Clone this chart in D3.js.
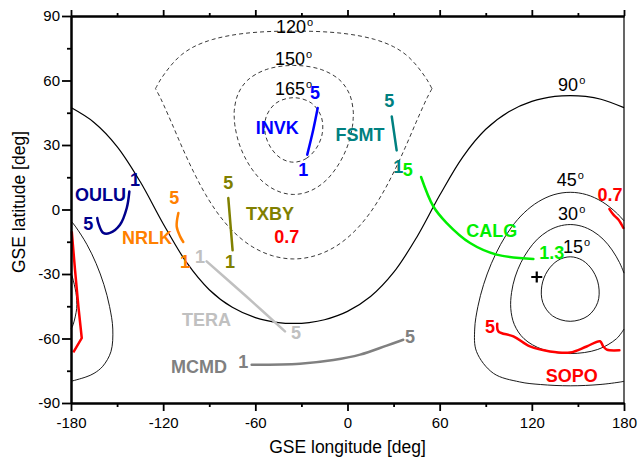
<!DOCTYPE html>
<html>
<head>
<meta charset="utf-8">
<script src="https://cdnjs.cloudflare.com/ajax/libs/d3/7.8.5/d3.min.js"></script>
<style>
  body { margin: 0; background: #fff; }
  text { font-family: "Liberation Sans", Arial, sans-serif; }
</style>
</head>
<body>
<div id="my_dataviz"></div>
<script>
// axis ticks
var xTicks = [-180, -120, -60, 0, 60, 120, 180]
var xMinor = [-150, -90, -30, 30, 90, 150]
var yTicks = [-90, -60, -30, 0, 30, 60, 90]
var yMinor = [-75, -45, -15, 15, 45, 75]

// contour lines, [lon, lat]
var c90 = [[-180,47.4],[-165,40.5],[-150,29.3],[-135,13.0],[-120,-6.6],[-105,-24.4],[-90,-37.3],[-75,-45.5],[-60,-50.3],[-45,-52.6],[-35,-53.0],[-25,-52.6],[-15,-51.3],[0,-47.4],[15,-40.5],[30,-29.3],[45,-13.0],[60,6.6],[75,24.4],[90,37.3],[105,45.5],[120,50.3],[135,52.6],[145,53.0],[155,52.6],[165,51.3],[180,47.4]]
var c45a = [[180,-79.9],[177.9,-80.2],[164.4,-81.4],[145,-82],[125.6,-81.4],[112.1,-80.2],[95,-76.2],[84,-66.1],[82.8,-55.6],[84.9,-45.1],[88.6,-34.9],[93.6,-25.2],[99.7,-16.2],[106.8,-8.2],[115,-1.5],[124.2,3.6],[134.4,6.9],[145,8],[155.6,6.9],[165.8,3.6],[175,-1.5],[180,-5.3]]
var c45b = [[-180,-5.3],[-176.8,-8.2],[-169.7,-16.2],[-163.6,-25.2],[-158.6,-34.9],[-154.9,-45.1],[-152.8,-55.6],[-154,-66.1],[-159.3,-72.9],[-165,-76.2],[-170.3,-77.9],[-180,-79.9]]
var c30a = [[180,-55.6],[175.1,-60.1],[162.9,-65.1],[145,-67],[127.1,-65.1],[114.9,-60.1],[108.6,-53.5],[106.3,-46.1],[106.8,-38.6],[109.1,-31.4],[112.9,-24.7],[117.8,-18.8],[123.6,-13.8],[130.3,-10.1],[137.5,-7.8],[145,-7],[152.5,-7.8],[159.7,-10.1],[166.4,-13.8],[172.2,-18.8],[177.1,-24.7],[180,-29.6]]
var c30b = [[-180,-29.6],[-179.1,-31.4],[-176.8,-38.6],[-176.3,-42.4],[-176.3,-46.1],[-178.6,-53.5],[-180,-55.6]]
var c15 = [[145,-22],[153.1,-23.7],[159.8,-28.6],[163.5,-35.5],[162.9,-43.2],[156.5,-49.5],[145,-52],[133.5,-49.5],[127.1,-43.2],[126.5,-35.5],[130.2,-28.6],[136.9,-23.7]]
var c120top = [[-125,56.2],[-121.9,60.2],[-118.1,64.1],[-113.6,68.1],[-108,72],[-100,75.7],[-87.7,79.1],[-67.2,81.9],[-35,83],[-2.8,81.9],[17.7,79.1],[30,75.7],[38,72],[43.6,68.1],[48.1,64.1],[51.9,60.2],[55,56.2]]
var c120low = [[55,56.2],[52,52.2],[49.4,48.2],[44.5,40.3],[37.5,28.7],[30.2,17.5],[22.4,7.0],[13.6,-2.6],[3.6,-10.8],[-8,-17.3],[-21.1,-21.5],[-35,-23],[-48.9,-21.5],[-62,-17.3],[-73.6,-10.8],[-83.6,-2.6],[-92.4,7.0],[-100.2,17.5],[-107.5,28.7],[-114.5,40.3],[-119.4,48.2],[-122,52.2],[-125,56.2]]
var c150 = [[-35,7],[-27.5,7.8],[-20.3,10.1],[-13.6,13.8],[-7.8,18.8],[-2.9,24.7],[0.9,31.4],[3.2,38.6],[3.7,42.4],[3.7,46.1],[1.4,53.5],[-4.9,60.1],[-17.1,65.1],[-35,67],[-52.9,65.1],[-65.1,60.1],[-71.4,53.5],[-73.7,46.1],[-73.7,42.4],[-73.2,38.6],[-70.9,31.4],[-67.1,24.7],[-62.2,18.8],[-56.4,13.8],[-49.7,10.1],[-42.5,7.8]]
var c165 = [[-35,22],[-26.9,23.7],[-20.2,28.6],[-16.4,35.5],[-17.1,43.2],[-23.5,49.5],[-35,52],[-46.5,49.5],[-52.9,43.2],[-53.6,35.5],[-49.8,28.6],[-43.1,23.7]]

// contour labels: text, lon, lat
var contourLabels = [["120",-46.5,82.1],["150",-47.2,67.3],["165",-47.2,53.4],["90",137.1,54.9],["45",136.2,10.7],["30",137.1,-4.7],["15",140.3,-20.1]]

// station traces [lon, lat]
var oulu = [[-142.0,8.4],[-143.7,0.7],[-148.1,-7.1],[-154.6,-10.9],[-159.0,-10.9],[-162.2,-6.3],[-162.9,-4.0]]
var invk = [[-26.2,25.5],[-22.3,37.1],[-19.4,47.2]]
var fsmt = [[28.8,43.3],[32.0,27.5]]
var calg = [[47.9,15.1],[55.9,1.4],[64.6,-6.3],[79.8,-15.6],[97.1,-21.0],[121,-23.0]]
var txby = [[-77.6,5.3],[-74.8,-19.0]]
var nrlk = [[-110.1,-1.6],[-111.2,-7.9],[-109.0,-12.5],[-106.9,-15.1]]
var tera = [[-91.7,-24.1],[-65.6,-40.6],[-40.7,-56.7]]
var mcmd = [[-62.4,-72.2],[-30.9,-71.7],[-9.2,-70.0],[8.2,-67.5],[25.5,-63.3],[36.3,-60.6]]
var sopo = [[97.5,-53.1],[98.2,-56.7],[108.0,-59.0],[118.8,-63.7],[131.8,-66.0],[144.9,-66.5],[155.7,-63.7],[164.4,-61.3],[166.5,-63.7],[168.8,-65.2],[177.0,-65.5]]
var redEast = [[170.5,0.2],[173.1,-2.4],[176.3,-4.7],[179.6,-8.6]]
var redWest = [[-179.5,-10.2],[-177.4,-28.0],[-175.2,-45.1],[-173.0,-59.8],[-178.5,-66.5]]

// subsolar-like marker
var crossPoint = [123.2, -31.4]

// station labels: text, lon, lat, colour
var labels = [
  ["OULU",-160.8,6.9,"#00008c"],["1",-138.3,13.9,"#00008c"],["5",-168.7,-6.7,"#00008c"],
  ["INVK",-45.7,38.2,"#0000ff"],["5",-21.1,54.5,"#0000ff"],["1",-28.8,18.5,"#0000ff"],
  ["FSMT",8.2,34.8,"#008080"],["5",27.2,50.6,"#008080"],["1",33.1,20.0,"#008080"],
  ["CALG",93.9,-9.9,"#00ee00"],["5",39.2,18.5,"#00ee00"],["1.3",133,-20.0,"#00ee00"],
  ["TXBY",-50.4,-2.1,"#808000"],["5",-77.6,12.6,"#808000"],["1",-76.5,-24.1,"#808000"],
  ["0.7",-39.6,-12.8,"#ff0000"],
  ["NRLK",-130.5,-13.1,"#ff8000"],["5",-112.7,5.3,"#ff8000"],["1",-105.8,-24.1,"#ff8000"],
  ["TERA",-91.8,-51.3,"#c0c0c0"],["1",-96.0,-21.8,"#c0c0c0"],["5",-33.5,-57.2,"#c0c0c0"],
  ["MCMD",-96.7,-73.1,"#808080"],["1",-67.8,-70.7,"#808080"],["5",40.7,-59.3,"#808080"],
  ["SOPO",146,-77.3,"#ff0000"],["5",92.8,-54.7,"#ff0000"],
  ["0.7",170.9,6.9,"#ff0000"]
]

// set the dimensions and margins of the graph
var margin = {top: 16, right: 19, bottom: 56, left: 71},
width = 643 - margin.left - margin.right,
height = 459 - margin.top - margin.bottom;

var svg = d3.select("#my_dataviz")
  .append("svg")
    .attr("width", 643)
    .attr("height", 459)
  .append("g")
    .attr("transform", "translate(" + margin.left + "," + margin.top + ")");

var x = d3.scaleLinear().domain([-180, 180]).range([0, width])
var y = d3.scaleLinear().domain([-90, 90]).range([height, 0])

var line = d3.line()
  .x(function (d) { return x(d[0]); })
  .y(function (d) { return y(d[1]); })
  .curve(d3.curveCatmullRom.alpha(0.5))

var closedLine = d3.line()
  .x(function (d) { return x(d[0]); })
  .y(function (d) { return y(d[1]); })
  .curve(d3.curveCatmullRomClosed.alpha(0.5))

// solid contours
var gc = svg.append("g").attr("fill", "none").attr("stroke", "#000")
gc.append("path").attr("d", line(c90)).attr("stroke-width", 1.2)
;[c45a, c45b, c30a, c30b].forEach(function (c) {
  gc.append("path").attr("d", line(c)).attr("stroke-width", 0.9)
})
gc.append("path").attr("d", closedLine(c15)).attr("stroke-width", 0.9)

// dashed contours
var gd = svg.append("g").attr("fill", "none").attr("stroke", "#222")
  .attr("stroke-width", 0.9).attr("stroke-dasharray", "4,3")
gd.append("path").attr("d", line(c120top))
gd.append("path").attr("d", line(c120low))
gd.append("path").attr("d", closedLine(c150))
gd.append("path").attr("d", closedLine(c165))

// contour labels
contourLabels.forEach(function (c) {
  var t = svg.append("text")
    .attr("x", x(c[1])).attr("y", y(c[2]))
    .attr("font-size", 18).attr("fill", "#000")
    .text(c[0])
  t.append("tspan").attr("font-size", 11).attr("dx", 1).attr("dy", -7).text("o")
})

// station traces
var traces = [
  [oulu, "#00008c"], [invk, "#0000ff"], [fsmt, "#008080"], [calg, "#00ee00"],
  [txby, "#808000"], [nrlk, "#ff8000"], [tera, "#c0c0c0"], [mcmd, "#808080"],
  [sopo, "#ff0000"], [redEast, "#ff0000"]
]
traces.forEach(function (t) {
  svg.append("path")
    .attr("d", line(t[0]))
    .attr("fill", "none")
    .attr("stroke", t[1])
    .attr("stroke-width", 2.5)
    .attr("stroke-linecap", "round")
})
svg.append("path")
  .attr("d", d3.line().x(function (d) { return x(d[0]); }).y(function (d) { return y(d[1]); })(redWest))
  .attr("fill", "none").attr("stroke", "#ff0000").attr("stroke-width", 2.5)

// cross marker
svg.append("path")
  .attr("transform", "translate(" + x(crossPoint[0]) + "," + y(crossPoint[1]) + ")")
  .attr("d", "M-5.5,0H5.5M0,-5.5V5.5")
  .attr("stroke", "#000").attr("stroke-width", 2.2)

// station labels
svg.append("g").selectAll("text")
  .data(labels)
  .enter()
  .append("text")
    .attr("x", function (d) { return x(d[1]); })
    .attr("y", function (d) { return y(d[2]); })
    .attr("dy", "0.35em")
    .attr("text-anchor", "middle")
    .attr("font-size", 18)
    .attr("font-weight", "bold")
    .attr("fill", function (d) { return d[3]; })
    .text(function (d) { return d[0]; })

// axes
function fmt(d) { return String(d); }

var xAxis = svg.append("g")
  .attr("transform", "translate(0," + height + ")")
  .call(d3.axisBottom(x).tickValues(xTicks).tickSize(8).tickSizeOuter(0).tickPadding(6).tickFormat(fmt))
svg.append("g")
  .attr("transform", "translate(0," + height + ")")
  .call(d3.axisBottom(x).tickValues(xMinor).tickSize(4).tickSizeOuter(0).tickFormat(""))

var yAxis = svg.append("g")
  .call(d3.axisLeft(y).tickValues(yTicks).tickSize(9).tickSizeOuter(0).tickPadding(2).tickFormat(fmt))
svg.append("g")
  .call(d3.axisLeft(y).tickValues(yMinor).tickSize(4).tickSizeOuter(0).tickFormat(""))

svg.append("g")
  .call(d3.axisTop(x).tickValues(xTicks).tickSize(6).tickSizeOuter(0).tickFormat(""))
svg.append("g")
  .call(d3.axisTop(x).tickValues(xMinor).tickSize(3).tickSizeOuter(0).tickFormat(""))

svg.append("line")
  .attr("x1", width).attr("x2", width).attr("y1", 0).attr("y2", height)
  .attr("stroke", "#000").attr("stroke-width", 1.2)

svg.selectAll(".domain").attr("stroke", "#000").attr("stroke-width", 2)
svg.selectAll(".tick line").attr("stroke", "#000").attr("stroke-width", 1.8)
svg.selectAll(".tick text")
  .attr("font-size", 15)
  .attr("fill", "#000")
  .style("font-family", "'Liberation Sans', Arial, sans-serif")

// axis labels
svg.append("text")
  .attr("text-anchor", "middle")
  .attr("x", width / 2)
  .attr("y", 437)
  .attr("font-size", 17.5)
  .text("GSE longitude [deg]")

svg.append("text")
  .attr("text-anchor", "middle")
  .attr("transform", "translate(" + (25 - margin.left) + "," + (202 - margin.top) + ") rotate(-90)")
  .attr("font-size", 17.5)
  .text("GSE latitude [deg]")
</script>
</body>
</html>
